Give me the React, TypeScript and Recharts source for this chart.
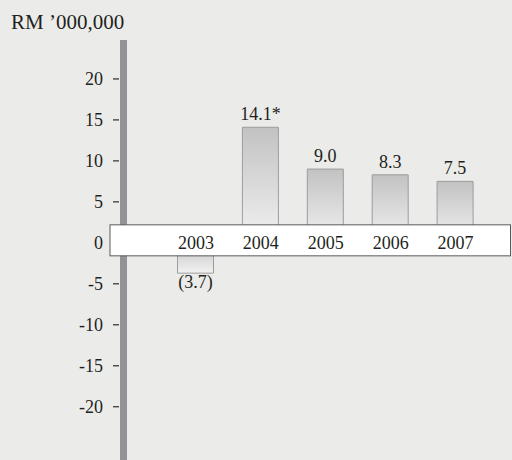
import React from 'react';
import { BarChart, Bar, XAxis, YAxis, ReferenceLine, ReferenceDot, LabelList } from 'recharts';

// Net profit (RM '000,000); 2004 figure carries a footnote mark
const years = ['2003', '2004', '2005', '2006', '2007'];
const profits = [-3.7, 14.1, 9.0, 8.3, 7.5];
const footnotes = ['', '*', '', '', ''];
const yTicks = [-20, -15, -10, -5, 0, 5, 10, 15, 20];

const chartData = years.map((year, i) => ({ year, value: profits[i], note: footnotes[i] }));

const FONT = "'Liberation Serif', 'Times New Roman', serif";
const TEXT = '#231f20';

const formatValue = (v: number, note: string) =>
  v < 0 ? `(${Math.abs(v).toFixed(1)})` : `${v.toFixed(1)}${note}`;

const YTick = ({ x, y, payload }: any) => (
  <g>
    {payload.value !== 0 && (
      <line x1={x - 10.5} x2={x - 4.5} y1={y} y2={y} stroke="#3a3a3a" strokeWidth={1.3} />
    )}
    <text x={x - 20.5} y={y} dy="0.35em" textAnchor="end" fontSize={18} fontFamily={FONT} fill={TEXT}>
      {payload.value}
    </text>
  </g>
);

const ValueLabel = (props: any) => {
  const { x, y, width, height, index } = props;
  const v = profits[index];
  const top = Math.min(y, y + height);
  const bottom = Math.max(y, y + height);
  const ty = v < 0 ? bottom + 15 : top - 7;
  return (
    <text x={x + width / 2} y={ty} textAnchor="middle" fontSize={18} fontFamily={FONT} fill={TEXT}>
      {formatValue(v, footnotes[index])}
    </text>
  );
};

// white strip along the zero line that holds the year labels
const ZeroBand = (props: any) => {
  const { x1, x2, y1 } = props;
  return (
    <rect
      x={x1 - 13.5}
      y={y1 - 18}
      width={x2 - x1 + 36}
      height={31}
      fill="#ffffff"
      stroke="#5a5a5a"
      strokeWidth={1}
    />
  );
};

const App: React.FC = () => {
  return (
    <div style={{ position: 'absolute', left: 0, top: 0, width: 512, height: 460, background: '#ebecea', overflow: 'hidden' }}>
      <div
        style={{
          position: 'absolute',
          left: 11,
          top: 12,
          fontFamily: FONT,
          fontSize: 21,
          lineHeight: 1,
          color: TEXT,
          whiteSpace: 'nowrap',
        }}
      >
        RM ’000,000
      </div>
      <BarChart width={512} height={460} data={chartData} margin={{ top: 40, right: 24, bottom: 0, left: 0 }}>
        <defs>
          <linearGradient id="barGrad" x1="0" y1="0" x2="0" y2="1">
            <stop offset="0%" stopColor="#c2c2c3" />
            <stop offset="100%" stopColor="#f2f2f2" />
          </linearGradient>
        </defs>
        <XAxis dataKey="year" type="category" hide padding={{ left: 40, right: 0 }} />
        <YAxis
          type="number"
          width={123.5}
          domain={[-26.5, 24.75]}
          ticks={yTicks}
          interval={0}
          axisLine={{ stroke: '#939396', strokeWidth: 7 }}
          tickLine={false}
          tickSize={0}
          tickMargin={0}
          tick={<YTick />}
        />
        <Bar dataKey="value" fill="url(#barGrad)" stroke="#9c9c9c" strokeWidth={1} barSize={36} isAnimationActive={false}>
          <LabelList dataKey="value" content={<ValueLabel />} />
        </Bar>
        <ReferenceLine y={0} zIndex={600} shape={<ZeroBand />} ifOverflow="visible" />
        {years.map((year) => (
          <ReferenceDot
            key={year}
            x={year}
            y={0}
            r={0}
            zIndex={700}
            fill="none"
            stroke="none"
            ifOverflow="visible"
            label={{ value: year, position: 'center', fontSize: 18, fontFamily: FONT, fill: TEXT }}
          />
        ))}
      </BarChart>
    </div>
  );
};

export default App;
